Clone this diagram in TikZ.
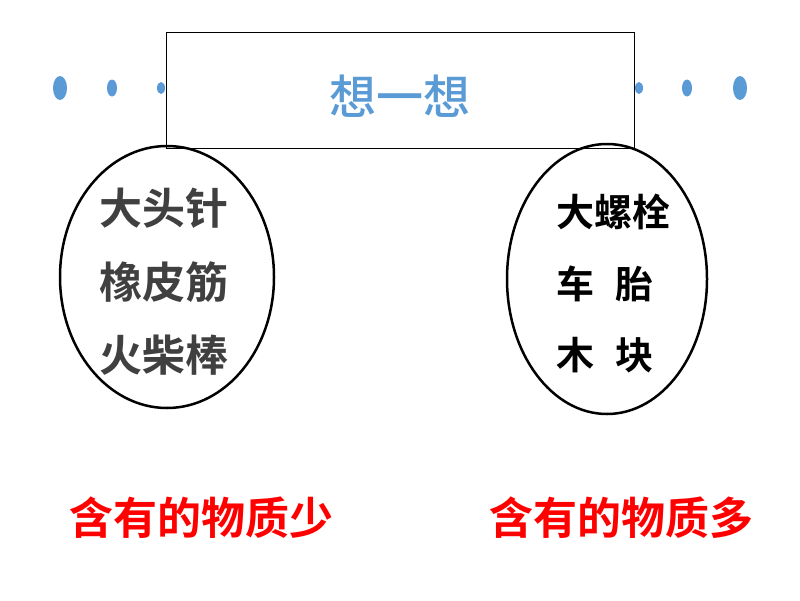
\documentclass[tikz,border=0pt]{standalone}
\usepackage{fontspec}
\newfontfamily\cjk{Noto Sans CJK SC Bold}
\newfontfamily\cjkr{Noto Sans CJK SC Medium}
\definecolor{dotblue}{HTML}{5B9BD5}
\definecolor{txtgray}{HTML}{404040}
\definecolor{txtred}{HTML}{FF0000}
\begin{document}
\begin{tikzpicture}[x=1pt,y=-1pt,
  dot/.style={fill=dotblue,draw=none},
  lbl/.style={inner sep=0pt,anchor=west,font=\cjk},
  ring/.style={draw=black,line width=2.5pt}]
\useasboundingbox (0,0) rectangle (800,600);
% dots
\fill[dot] (60,88) ellipse [x radius=7,y radius=12];
\fill[dot] (112,88) ellipse [x radius=5,y radius=8.5];
\fill[dot] (161,88) ellipse [x radius=4,y radius=6];
\fill[dot] (639,88) ellipse [x radius=4,y radius=6];
\fill[dot] (687,88) ellipse [x radius=5,y radius=8.5];
\fill[dot] (740,88) ellipse [x radius=7,y radius=12];
% title box
\node[draw=black,fill=white,line width=0.9pt,minimum width=468pt,minimum height=116pt,inner sep=0pt] (title) at (400,90) {};
\node[inner sep=0pt,font=\cjkr\fontsize{47}{50}\selectfont,text=dotblue] (tt) at (400,96) {想一想};
% ellipses
\draw[ring] (167,277) ellipse [x radius=107,y radius=131];
\draw[ring] (607,279) ellipse [x radius=100,y radius=135];
% left texts
\node[lbl,font=\cjk\fontsize{43}{46}\selectfont,text=txtgray] (l1) at (99,208) {大头针};
\node[lbl,font=\cjk\fontsize{43}{46}\selectfont,text=txtgray] (l2) at (99,282) {橡皮筋};
\node[lbl,font=\cjk\fontsize{43}{46}\selectfont,text=txtgray] (l3) at (99,355) {火柴棒};
% right texts
\node[lbl,font=\cjk\fontsize{38}{42}\selectfont,text=black] (r1) at (556,212) {大螺栓};
\node[lbl,font=\cjk\fontsize{38}{42}\selectfont,text=black] (r2) at (556,284) {车\hspace{0.55em}胎};
\node[lbl,font=\cjk\fontsize{38}{42}\selectfont,text=black] (r3) at (556,355) {木\hspace{0.55em}块};
% bottom texts
\node[lbl,font=\cjk\fontsize{44}{48}\selectfont,text=txtred] (b1) at (69,518) {含有的物质少};
\node[lbl,font=\cjk\fontsize{44}{48}\selectfont,text=txtred] (b2) at (489,518) {含有的物质多};
\end{tikzpicture}
\end{document}
